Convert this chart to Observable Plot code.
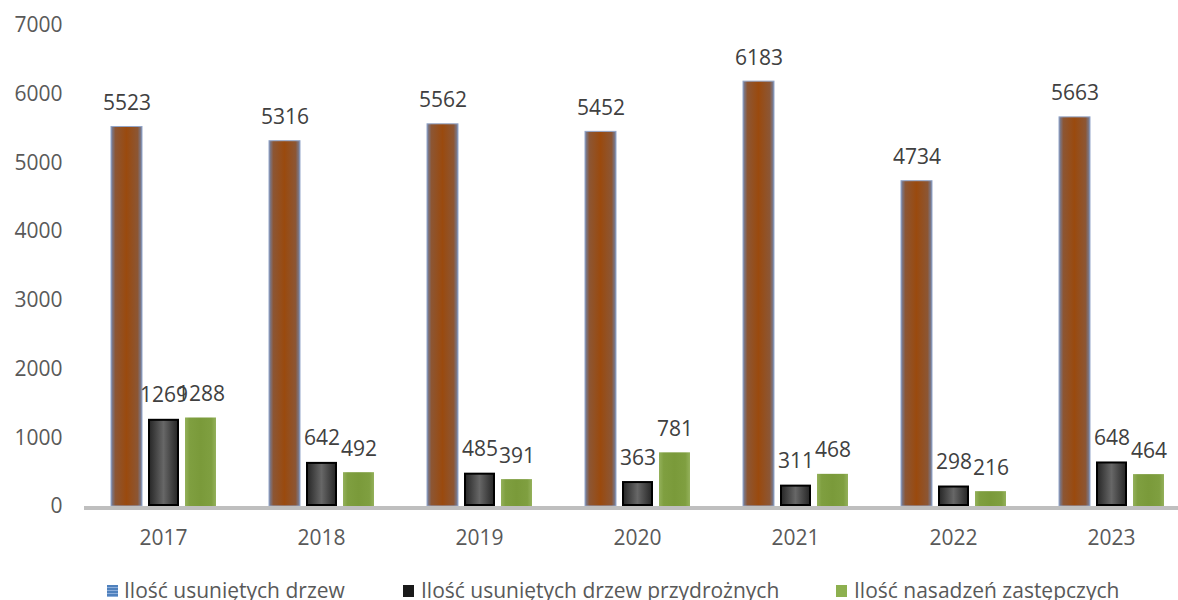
<!DOCTYPE html>
<html><head><meta charset="utf-8">
<script src="https://cdn.jsdelivr.net/npm/d3@7"></script>
<script src="https://cdn.jsdelivr.net/npm/@observablehq/plot@0.6"></script>
<style>
html,body{margin:0;padding:0;background:#fff;overflow:hidden;width:1178px;height:600px;position:relative;}
#chart{position:absolute;left:0;top:0;}
#legend{position:absolute;left:0;top:0;width:1178px;height:600px;font-family:"Open Sans";font-size:21px;color:#595959;pointer-events:none;}
.sw{position:absolute;top:585px;width:11px;height:12px;}
.lt{position:absolute;top:580px;line-height:21px;white-space:nowrap;}
</style>
</head><body>
<div id="chart"></div>
<div id="legend"></div>
<script>
const years = ["2017","2018","2019","2020","2021","2022","2023"];
const seriesNames = ["Ilość usuniętych drzew","Ilość usuniętych drzew przydrożnych","Ilość nasadzeń zastępczych"];
const removed   = [5523, 5316, 5562, 5452, 6183, 4734, 5663];
const roadside  = [1269, 642, 485, 363, 311, 298, 648];
const replanted = [1288, 492, 391, 781, 468, 216, 464];
const yTicks = [0,1000,2000,3000,4000,5000,6000,7000];

const rows = (vals, s) => years.map((year, i) => ({year, series: seriesNames[s], value: vals[i]}));
const d1 = rows(removed, 0), d2 = rows(roadside, 1), d3r = rows(replanted, 2);
const all = d1.concat(d2, d3r);

const plot = Plot.plot({
  width: 1192, height: 560,
  marginLeft: 81, marginRight: 0, marginTop: 25, marginBottom: 54,
  style: {fontFamily: "Open Sans", fontSize: "21px", color: "#595959", maxWidth: "none", background: "transparent"},
  fx: {domain: years, padding: 0, label: null},
  x: {domain: seriesNames, paddingInner: 0.166, paddingOuter: 0.67, axis: null},
  y: {domain: [0, 7000]},
  marks: [
    Plot.axisY({ticks: yTicks, tickFormat: d => String(d), tickSize: 0, tickPadding: 22, label: null, fontSize: 21, color: "#595959"}),
    Plot.axisFx({anchor: "bottom", tickSize: 0, tickPadding: 24, label: null, fontSize: 21, color: "#595959"}),
    Plot.barY(d1, {fx: "year", x: "series", y: "value", fill: "url(#gBrown)", stroke: "#93A6C9", strokeWidth: 1}),
    Plot.barY(d2, {fx: "year", x: "series", y: "value", fill: "url(#gGray)", stroke: "#000", strokeWidth: 2, inset: 1}),
    Plot.barY(d3r, {fx: "year", x: "series", y: "value", fill: "url(#gGreen)"}),
    Plot.ruleY([0], {stroke: "#BFBFBF", strokeWidth: 4, dy: 1.5}),
    Plot.text(all, {fx: "year", x: "series", y: "value", text: d => String(d.value), lineAnchor: "bottom", dy: -17, fontSize: 21, fill: "#404040"})
  ]
});

const defs = d3.select(plot).insert("defs", ":first-child");
function lin(id, stops) {
  const g = defs.append("linearGradient").attr("id", id).attr("x1", "0").attr("x2", "1").attr("y1", "0").attr("y2", "0");
  stops.forEach(([o, c]) => g.append("stop").attr("offset", o).attr("stop-color", c));
}
lin("gBrown", [["0%", "#7383A6"], ["14%", "#8C5634"], ["50%", "#9A4A0E"], ["86%", "#8C5634"], ["100%", "#7383A6"]]);
lin("gGray", [["0%", "#262626"], ["50%", "#676767"], ["100%", "#262626"]]);
lin("gGreen", [["0%", "#94B15B"], ["15%", "#7F9F40"], ["50%", "#7A9A3A"], ["85%", "#7F9F40"], ["100%", "#94B15B"]]);

document.getElementById("chart").appendChild(plot);

const legendItems = [
  {sw: 107, tx: 124, bg: "repeating-linear-gradient(to bottom,#4F81BD 0px,#4F81BD 2px,#8DAEDB 2px,#8DAEDB 3px)"},
  {sw: 403, tx: 421, bg: "#1a1a1a"},
  {sw: 836, tx: 854, bg: "#8DB04F"}
];
const leg = document.getElementById("legend");
legendItems.forEach((it, i) => {
  const s = document.createElement("div"); s.className = "sw"; s.style.left = it.sw + "px"; s.style.background = it.bg; leg.appendChild(s);
  const t = document.createElement("div"); t.className = "lt"; t.style.left = it.tx + "px"; t.textContent = seriesNames[i]; leg.appendChild(t);
});
</script>
</body></html>
